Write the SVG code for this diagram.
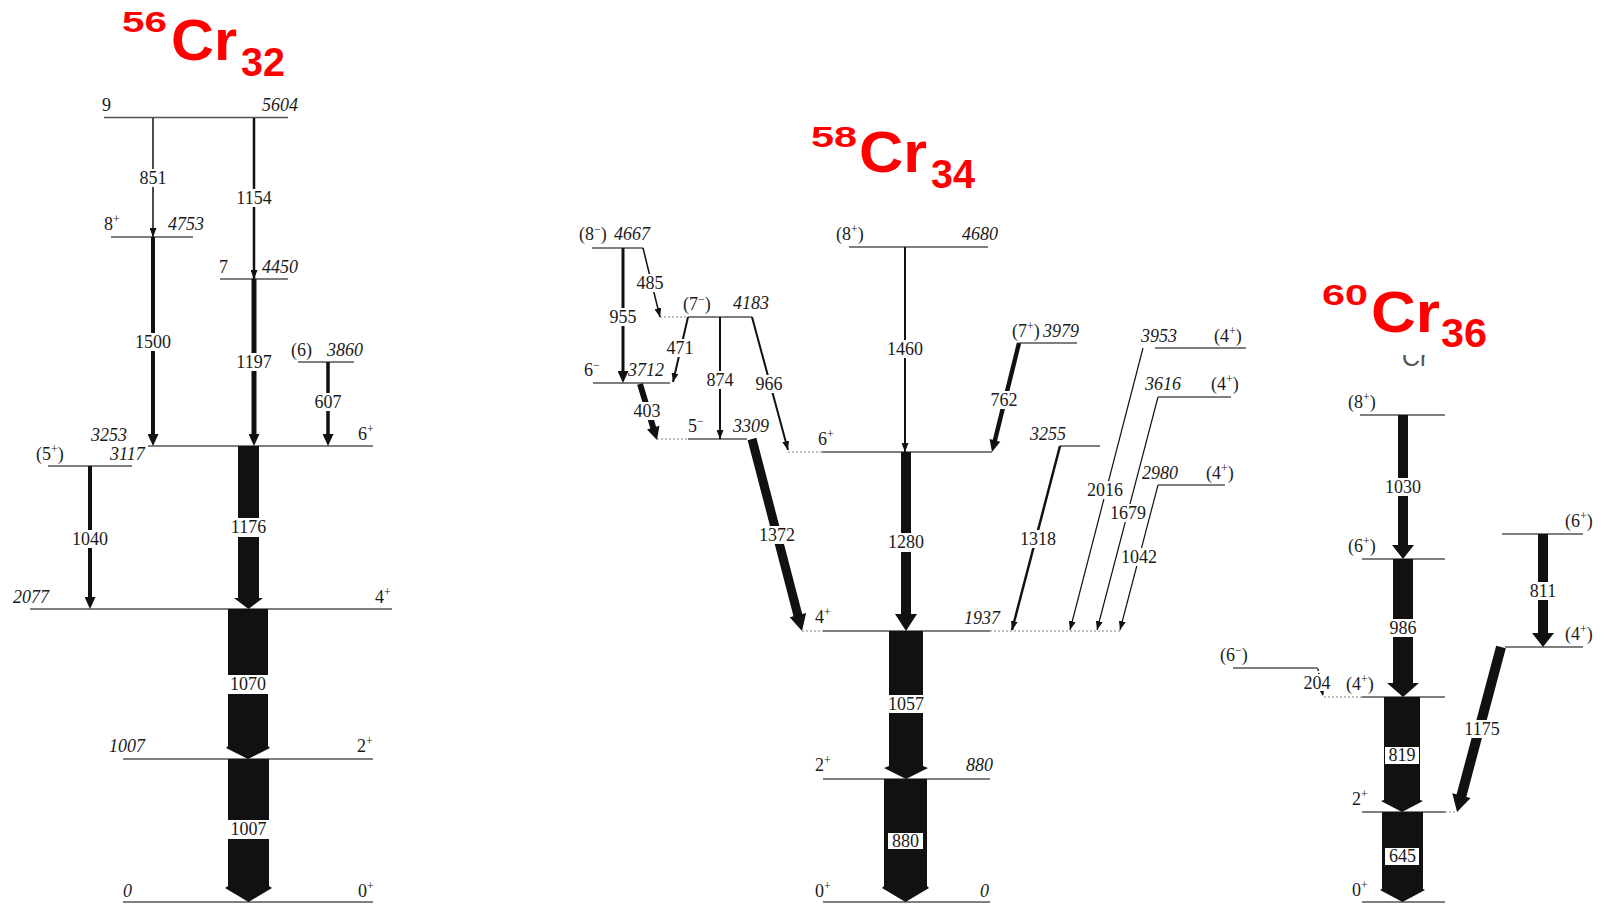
<svg xmlns="http://www.w3.org/2000/svg" width="1604" height="905" viewBox="0 0 1604 905">
<style>
.lv{stroke:#555;stroke-width:1.6;fill:none}
.dt{stroke:#aaa;stroke-width:1.3;stroke-dasharray:2 2;fill:none}
.t{font-family:"Liberation Serif","Times New Roman",serif;font-size:18px;fill:#1a1a1a}
.e{font-style:italic}
.sp{font-size:12px}
.lb{font-family:"Liberation Serif","Times New Roman",serif;font-size:18px;fill:#1a1a1a;text-anchor:middle}
.bx{fill:#fff}
.tr{stroke:#111;fill:none}
.fa{fill:#111}
.ti{font-family:"Liberation Sans",Arial,sans-serif;font-weight:bold;fill:#ff0000}
</style>
<defs>
<marker id="a1" viewBox="0 0 9 7" refX="9" refY="3.5" markerWidth="9" markerHeight="7" markerUnits="userSpaceOnUse" orient="auto"><path d="M0,0 L9,3.5 L0,7 z" fill="#111"/></marker>
<marker id="a2" viewBox="0 0 12 11" refX="2" refY="5.5" markerWidth="12" markerHeight="11" markerUnits="userSpaceOnUse" orient="auto"><path d="M0,0 L12,5.5 L0,11 z" fill="#111"/></marker>
</defs>
<rect width="1604" height="905" fill="#fff"/>

<!-- fragment under 60Cr title -->
<text x="1402" y="366" font-family="Liberation Sans, Arial, sans-serif" font-size="25" fill="#555">Cr</text>
<rect x="1290" y="262" width="215" height="93" fill="#fff"/>

<!-- titles -->
<g id="title-56cr">
<text class="ti" x="122" y="32" font-size="29" textLength="45" lengthAdjust="spacingAndGlyphs">56</text>
<text class="ti" x="171" y="60" font-size="57" textLength="66" lengthAdjust="spacingAndGlyphs">Cr</text>
<text class="ti" x="241" y="76" font-size="40" textLength="44" lengthAdjust="spacingAndGlyphs">32</text>
</g>
<g id="title-58cr">
<text class="ti" x="811" y="147" font-size="29" textLength="46" lengthAdjust="spacingAndGlyphs">58</text>
<text class="ti" x="859" y="172" font-size="57" textLength="68" lengthAdjust="spacingAndGlyphs">Cr</text>
<text class="ti" x="931" y="188" font-size="40" textLength="44" lengthAdjust="spacingAndGlyphs">34</text>
</g>
<g id="title-60cr">
<text class="ti" x="1322" y="305" font-size="29" textLength="46" lengthAdjust="spacingAndGlyphs">60</text>
<text class="ti" x="1371" y="332" font-size="57" textLength="69" lengthAdjust="spacingAndGlyphs">Cr</text>
<text class="ti" x="1441" y="347" font-size="40" textLength="46" lengthAdjust="spacingAndGlyphs">36</text>
</g>

<!-- 56Cr levels -->
<g id="cr56-l5604"><line class="lv" x1="104" y1="117.5" x2="288" y2="117.5"/><text class="t" x="102" y="111">9</text><text class="t e" x="262" y="111">5604</text></g>
<g id="cr56-l4753"><line class="lv" x1="111" y1="237" x2="193" y2="237"/><text class="t" x="104" y="230">8<tspan class="sp" dy="-7">+</tspan></text><text class="t e" x="168" y="230">4753</text></g>
<g id="cr56-l4450"><line class="lv" x1="220" y1="279" x2="288" y2="279"/><text class="t" x="219" y="273">7</text><text class="t e" x="262" y="273">4450</text></g>
<g id="cr56-l3860"><line class="lv" x1="298" y1="362" x2="354" y2="362"/><text class="t" x="291" y="356">(6)</text><text class="t e" x="327" y="356">3860</text></g>
<g id="cr56-l3253"><line class="lv" x1="148" y1="446" x2="373" y2="446"/><text class="t e" x="91" y="441">3253</text><text class="t" x="358" y="440">6<tspan class="sp" dy="-7">+</tspan></text></g>
<g id="cr56-l3117"><line class="lv" x1="48" y1="466" x2="132" y2="466"/><text class="t" x="36" y="460">(5<tspan class="sp" dy="-7">+</tspan><tspan dy="7">)</tspan></text><text class="t e" x="110" y="460">3117</text></g>
<g id="cr56-l2077"><line class="lv" x1="30" y1="609" x2="392" y2="609"/><text class="t e" x="13" y="603">2077</text><text class="t" x="375" y="603">4<tspan class="sp" dy="-7">+</tspan></text></g>
<g id="cr56-l1007"><line class="lv" x1="123" y1="759" x2="373" y2="759"/><text class="t e" x="109" y="752">1007</text><text class="t" x="357" y="752">2<tspan class="sp" dy="-7">+</tspan></text></g>
<g id="cr56-l0"><line class="lv" x1="123" y1="902" x2="373" y2="902"/><text class="t e" x="123" y="897">0</text><text class="t" x="358" y="897">0<tspan class="sp" dy="-7">+</tspan></text></g>

<!-- 58Cr levels -->
<g id="cr58-l4667"><line class="lv" x1="592" y1="248" x2="643" y2="248"/><text class="t" x="579" y="240">(8<tspan class="sp" dy="-7">−</tspan><tspan dy="7">)</tspan></text><text class="t e" x="614" y="240">4667</text></g>
<g id="cr58-l4183"><line class="dt" x1="660" y1="317" x2="688" y2="317"/><line class="lv" x1="688" y1="317" x2="752" y2="317"/><text class="t" x="683" y="310">(7<tspan class="sp" dy="-7">−</tspan><tspan dy="7">)</tspan></text><text class="t e" x="733" y="309">4183</text></g>
<g id="cr58-l3712"><line class="lv" x1="593" y1="383" x2="670" y2="383"/><text class="t" x="584" y="376">6<tspan class="sp" dy="-7">−</tspan></text><text class="t e" x="628" y="376">3712</text></g>
<g id="cr58-l3309"><line class="dt" x1="657" y1="439" x2="688" y2="439"/><line class="lv" x1="688" y1="439" x2="747" y2="439"/><text class="t" x="688" y="432">5<tspan class="sp" dy="-7">−</tspan></text><text class="t e" x="733" y="432">3309</text></g>
<g id="cr58-l4680"><line class="lv" x1="849" y1="247" x2="988" y2="247"/><text class="t" x="836" y="240">(8<tspan class="sp" dy="-7">+</tspan><tspan dy="7">)</tspan></text><text class="t e" x="962" y="240">4680</text></g>
<g id="cr58-l3979"><line class="lv" x1="1019" y1="343" x2="1077" y2="343"/><text class="t" x="1012" y="337">(7<tspan class="sp" dy="-7">+</tspan><tspan dy="7">)</tspan></text><text class="t e" x="1043" y="337">3979</text></g>
<g id="cr58-l6p"><line class="dt" x1="788" y1="452" x2="822" y2="452"/><line class="lv" x1="822" y1="452" x2="992" y2="452"/><text class="t" x="818" y="445">6<tspan class="sp" dy="-7">+</tspan></text></g>
<g id="cr58-l3255"><line class="lv" x1="1060" y1="446" x2="1100" y2="446"/><text class="t e" x="1030" y="440">3255</text></g>
<g id="cr58-l3953"><line class="lv" x1="1155" y1="348" x2="1246" y2="348"/><text class="t e" x="1141" y="342">3953</text><text class="t" x="1214" y="342">(4<tspan class="sp" dy="-7">+</tspan><tspan dy="7">)</tspan></text></g>
<g id="cr58-l3616"><line class="lv" x1="1158" y1="397" x2="1231" y2="397"/><text class="t e" x="1145" y="390">3616</text><text class="t" x="1211" y="390">(4<tspan class="sp" dy="-7">+</tspan><tspan dy="7">)</tspan></text></g>
<g id="cr58-l2980"><line class="lv" x1="1158" y1="485" x2="1225" y2="485"/><text class="t e" x="1142" y="479">2980</text><text class="t" x="1206" y="479">(4<tspan class="sp" dy="-7">+</tspan><tspan dy="7">)</tspan></text></g>
<g id="cr58-l1937"><line class="dt" x1="802" y1="631" x2="823" y2="631"/><line class="lv" x1="823" y1="631" x2="990" y2="631"/><line class="dt" x1="990" y1="631" x2="1122" y2="631"/><text class="t" x="815" y="623">4<tspan class="sp" dy="-7">+</tspan></text><text class="t e" x="964" y="624">1937</text></g>
<g id="cr58-l880"><line class="lv" x1="823" y1="779" x2="990" y2="779"/><text class="t" x="815" y="771">2<tspan class="sp" dy="-7">+</tspan></text><text class="t e" x="966" y="771">880</text></g>
<g id="cr58-l0"><line class="lv" x1="823" y1="902" x2="990" y2="902"/><text class="t" x="815" y="897">0<tspan class="sp" dy="-7">+</tspan></text><text class="t e" x="980" y="897">0</text></g>

<!-- 60Cr levels -->
<g id="cr60-l8p"><line class="lv" x1="1360" y1="415" x2="1445" y2="415"/><text class="t" x="1348" y="408">(8<tspan class="sp" dy="-7">+</tspan><tspan dy="7">)</tspan></text></g>
<g id="cr60-l6p"><line class="lv" x1="1362" y1="559" x2="1445" y2="559"/><text class="t" x="1348" y="552">(6<tspan class="sp" dy="-7">+</tspan><tspan dy="7">)</tspan></text></g>
<g id="cr60-l6pb"><line class="lv" x1="1502" y1="534" x2="1583" y2="534"/><text class="t" x="1565" y="527">(6<tspan class="sp" dy="-7">+</tspan><tspan dy="7">)</tspan></text></g>
<g id="cr60-l4pb"><line class="lv" x1="1505" y1="647" x2="1583" y2="647"/><text class="t" x="1565" y="640">(4<tspan class="sp" dy="-7">+</tspan><tspan dy="7">)</tspan></text></g>
<g id="cr60-l6m"><line class="lv" x1="1233" y1="668" x2="1318" y2="668"/><text class="t" x="1220" y="661">(6<tspan class="sp" dy="-7">−</tspan><tspan dy="7">)</tspan></text></g>
<g id="cr60-l4p"><line class="dt" x1="1324" y1="697" x2="1362" y2="697"/><line class="lv" x1="1362" y1="697" x2="1445" y2="697"/><text class="t" x="1346" y="690">(4<tspan class="sp" dy="-7">+</tspan><tspan dy="7">)</tspan></text></g>
<g id="cr60-l2p"><line class="lv" x1="1362" y1="812" x2="1445" y2="812"/><line class="dt" x1="1445" y1="812" x2="1457" y2="812"/><text class="t" x="1352" y="805">2<tspan class="sp" dy="-7">+</tspan></text></g>
<g id="cr60-l0"><line class="lv" x1="1362" y1="902" x2="1445" y2="902"/><text class="t" x="1352" y="896">0<tspan class="sp" dy="-7">+</tspan></text></g>

<!-- transitions -->
<g id="connectors">
<!-- 56Cr -->
<line class="tr" x1="153" y1="118" x2="153" y2="237" stroke-width="1.5" marker-end="url(#a1)"/>
<line class="tr" x1="254" y1="118" x2="254" y2="279" stroke-width="2.5" marker-end="url(#a1)"/>
<line class="tr" x1="153" y1="237" x2="153" y2="436" stroke-width="4" marker-end="url(#a2)"/>
<line class="tr" x1="254" y1="279" x2="254" y2="436" stroke-width="5" marker-end="url(#a2)"/>
<line class="tr" x1="328" y1="362" x2="328" y2="436" stroke-width="3.5" marker-end="url(#a2)"/>
<line class="tr" x1="90" y1="466" x2="90" y2="599" stroke-width="4" marker-end="url(#a2)"/>
<polygon class="fa" points="238,446 259,446 259,598 263,598 248.5,609 234,598 238,598"/>
<polygon class="fa" points="228,609 268,609 268,746 270,748 248,759 226,748 228,746"/>
<polygon class="fa" points="228,759 269,759 269,886 272,888 248.5,902 225,888 228,886"/>
<!-- 58Cr -->
<line class="tr" x1="623" y1="248" x2="623" y2="373" stroke-width="3" marker-end="url(#a2)"/>
<line class="tr" x1="643" y1="248" x2="660" y2="317" stroke-width="1.5" marker-end="url(#a1)"/>
<line class="tr" x1="688" y1="317" x2="673" y2="382" stroke-width="2" marker-end="url(#a1)"/>
<line class="tr" x1="720" y1="317" x2="720" y2="439" stroke-width="2" marker-end="url(#a1)"/>
<line class="tr" x1="752" y1="317" x2="788" y2="450" stroke-width="2" marker-end="url(#a1)"/>
<polygon class="fa" transform="translate(640,384) rotate(-16.9)" points="-3,0 3,0 3,45.5 6.5,45.5 0,58.5 -6.5,45.5 -3,45.5"/>
<polygon class="fa" transform="translate(752,439) rotate(-14.6)" points="-4.5,0 4.5,0 4.5,182 8.5,182 0,198.4 -8.5,182 -4.5,182"/>
<line class="tr" x1="905" y1="247" x2="905" y2="452" stroke-width="2" marker-end="url(#a1)"/>
<polygon class="fa" transform="translate(1019,343) rotate(13.9)" points="-2.2,0 2.2,0 2.2,100.3 5.5,100.3 0,112.3 -5.5,100.3 -2.2,100.3"/>
<polygon class="fa" points="901,452 911,452 911,614 917,614 906,631 895,614 901,614"/>
<line class="tr" x1="1060" y1="446" x2="1012" y2="630" stroke-width="2.5" marker-end="url(#a1)"/>
<line class="tr" x1="1143" y1="348" x2="1070" y2="630" stroke-width="1.2" marker-end="url(#a1)"/>
<line class="tr" x1="1158" y1="397" x2="1097" y2="630" stroke-width="1.2" marker-end="url(#a1)"/>
<line class="tr" x1="1158" y1="485" x2="1120" y2="630" stroke-width="1.2" marker-end="url(#a1)"/>
<polygon class="fa" points="889,631 923,631 923,766 928,768 906,779 884,768 889,766"/>
<polygon class="fa" points="884,779 927,779 927,886 929,888 905.5,902 882,888 884,886"/>
<!-- 60Cr -->
<polygon class="fa" points="1398,415 1408,415 1408,545 1414,545 1403,559 1392,545 1398,545"/>
<polygon class="fa" points="1393,559 1413,559 1413,683 1419,683 1403,697 1387,683 1393,683"/>
<polygon class="fa" points="1538,534 1548,534 1548,633 1554,633 1543,647 1532,633 1538,633"/>
<polygon class="fa" transform="translate(1501,647) rotate(14.9)" points="-5,0 5,0 5,153.8 9.5,153.8 0,170.8 -9.5,153.8 -5,153.8"/>
<line class="tr" x1="1318" y1="669" x2="1323" y2="696" stroke-width="1.5" stroke-dasharray="2 2" marker-end="url(#a1)"/>
<polygon class="fa" points="1384,697 1420,697 1420,800 1423,801 1402,812 1381,801 1384,800"/>
<polygon class="fa" points="1382,812 1423,812 1423,889 1425,890 1402.5,902 1380,890 1382,889"/>

<!-- transition labels -->
<rect class="bx" x="139" y="169" width="28" height="18"/><text class="lb" x="153" y="184">851</text>
<rect class="bx" x="235" y="189" width="38" height="18"/><text class="lb" x="254" y="204">1154</text>
<rect class="bx" x="134" y="333" width="38" height="18"/><text class="lb" x="153" y="348">1500</text>
<rect class="bx" x="235" y="353" width="38" height="18"/><text class="lb" x="254" y="368">1197</text>
<rect class="bx" x="314" y="393" width="28" height="18"/><text class="lb" x="328" y="408">607</text>
<rect class="bx" x="71" y="530" width="38" height="18"/><text class="lb" x="90" y="545">1040</text>
<rect class="bx" x="229" y="518" width="39" height="19"/><text class="lb" x="248.5" y="533">1176</text>
<rect class="bx" x="227" y="675" width="42" height="19"/><text class="lb" x="248" y="690">1070</text>
<rect class="bx" x="227" y="820" width="43" height="19"/><text class="lb" x="248.5" y="835">1007</text>

<rect class="bx" x="636" y="274" width="28" height="18"/><text class="lb" x="650" y="289">485</text>
<rect class="bx" x="609" y="308" width="28" height="18"/><text class="lb" x="623" y="323">955</text>
<rect class="bx" x="666" y="339" width="28" height="18"/><text class="lb" x="680" y="354">471</text>
<rect class="bx" x="706" y="371" width="28" height="18"/><text class="lb" x="720" y="386">874</text>
<rect class="bx" x="755" y="375" width="28" height="18"/><text class="lb" x="769" y="390">966</text>
<rect class="bx" x="633" y="402" width="28" height="18"/><text class="lb" x="647" y="417">403</text>
<rect class="bx" x="758" y="526" width="38" height="18"/><text class="lb" x="777" y="541">1372</text>
<rect class="bx" x="886" y="340" width="38" height="18"/><text class="lb" x="905" y="355">1460</text>
<rect class="bx" x="990" y="391" width="28" height="18"/><text class="lb" x="1004" y="406">762</text>
<rect class="bx" x="887" y="533" width="38" height="19"/><text class="lb" x="906" y="548">1280</text>
<rect class="bx" x="1019" y="530" width="38" height="18"/><text class="lb" x="1038" y="545">1318</text>
<rect class="bx" x="1086" y="481" width="38" height="18"/><text class="lb" x="1105" y="496">2016</text>
<rect class="bx" x="1109" y="504" width="38" height="18"/><text class="lb" x="1128" y="519">1679</text>
<rect class="bx" x="1120" y="548" width="38" height="18"/><text class="lb" x="1139" y="563">1042</text>
<rect class="bx" x="888" y="695" width="36" height="18"/><text class="lb" x="906" y="710">1057</text>
<rect class="bx" x="888" y="833" width="35" height="16"/><text class="lb" x="905.5" y="847">880</text>

<rect class="bx" x="1384" y="478" width="38" height="18"/><text class="lb" x="1403" y="493">1030</text>
<rect class="bx" x="1388" y="619" width="30" height="18"/><text class="lb" x="1403" y="634">986</text>
<rect class="bx" x="1529" y="582" width="28" height="18"/><text class="lb" x="1543" y="597">811</text>
<rect class="bx" x="1463" y="720" width="39" height="18"/><text class="lb" x="1482" y="735">1175</text>
<rect class="bx" x="1303" y="674" width="28" height="17"/><text class="lb" x="1317" y="689">204</text>
<rect class="bx" x="1385" y="747" width="34" height="17"/><text class="lb" x="1402" y="761">819</text>
<rect class="bx" x="1385" y="848" width="34" height="17"/><text class="lb" x="1402.5" y="862">645</text>
</g>
</svg>
